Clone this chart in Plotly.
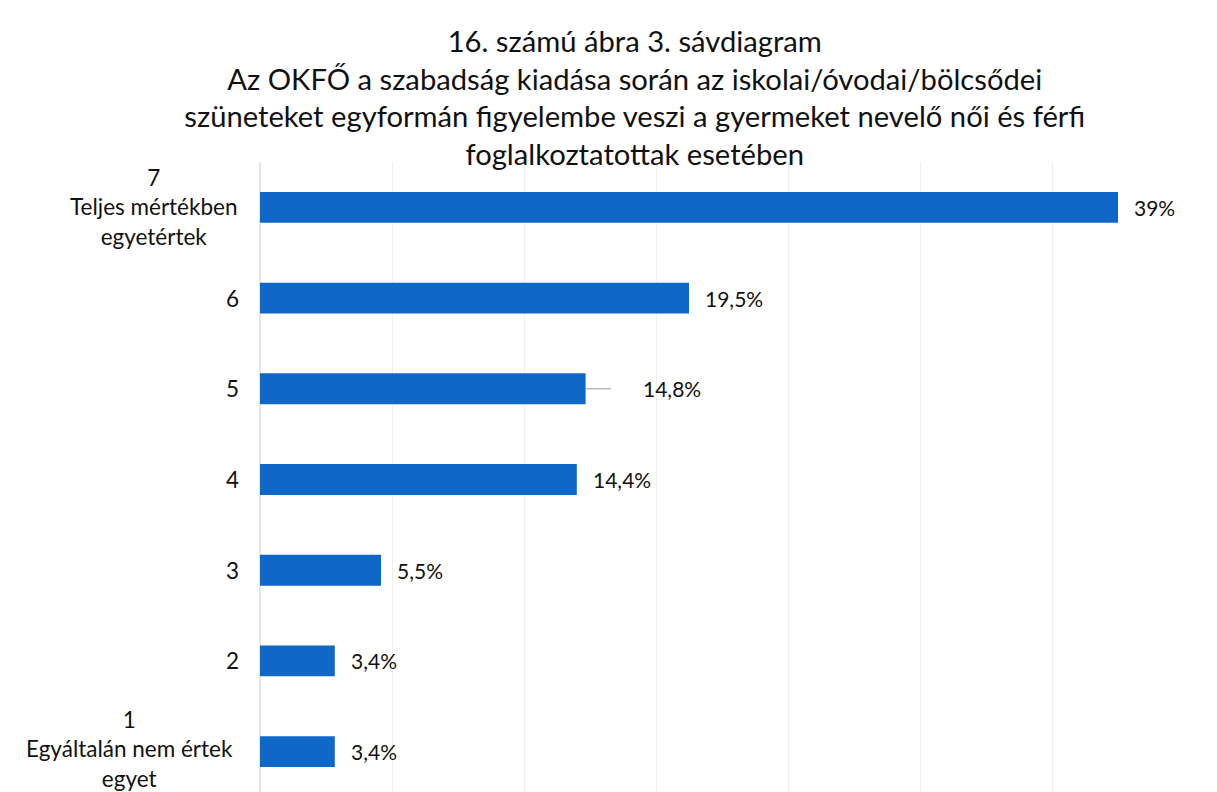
import plotly.graph_objects as go

categories = ["1", "2", "3", "4", "5", "6", "7"]
category_texts = ["1<br>Egyáltalán nem értek<br>egyet", "2", "3", "4", "5", "6",
                  "7<br>Teljes mértékben<br>egyetértek"]
values = [3.4, 3.4, 5.5, 14.4, 14.8, 19.5, 39.0]
value_labels = ["3,4%", "3,4%", "5,5%", "14,4%", "14,8%", "19,5%", "39%"]

title_text = ("16. számú ábra 3. sávdiagram<br>"
              "Az OKFŐ a szabadság kiadása során az iskolai/óvodai/bölcsődei<br>"
              "szüneteket egyformán figyelembe veszi a gyermeket nevelő női és férfi<br>"
              "foglalkoztatottak esetében")

FONT = "Lato"
BLUE = "#0F67C8"
LBL = 21
CAT = 22.5

fig = go.Figure(go.Bar(
    x=values, y=categories, orientation="h",
    marker=dict(color=BLUE, line=dict(width=0)),
    width=0.34, showlegend=False, hoverinfo="skip",
))

annotations = []
# category positions on the category axis are addressed by their index
for i, txt in enumerate(category_texts):
    multi = "<br>" in txt
    if multi:
        xshift = -131 if i == 0 else -107
        yshift = 3 if i == 0 else 0
    else:
        xshift, yshift = -19, 0
    annotations.append(dict(
        x=0, xref="paper", y=i, yref="y", text=txt, showarrow=False,
        xanchor="center" if multi else "right",
        xshift=xshift, yshift=yshift, align="center",
        font=dict(family=FONT, size=CAT, color="#111"),
    ))
for i, (v, lab) in enumerate(zip(values, value_labels)):
    if categories[i] == "5":
        annotations.append(dict(
            x=v, y=i, xref="x", yref="y", text=lab, showarrow=True,
            arrowhead=0, arrowwidth=1, arrowcolor="#999", ax=86, ay=0,
            standoff=0, startstandoff=30,
            font=dict(family=FONT, size=LBL, color="#111"),
        ))
    else:
        annotations.append(dict(
            x=v, y=i, xref="x", yref="y", text=lab, showarrow=False,
            xanchor="left", xshift=14,
            font=dict(family=FONT, size=LBL, color="#111"),
        ))

fig.update_layout(
    width=1217, height=792,
    margin=dict(l=252, r=41, t=154, b=3),
    paper_bgcolor="white", plot_bgcolor="white",
    title=dict(text=title_text, x=0.515, xanchor="center", y=0.945, yanchor="top",
               font=dict(family=FONT, size=29.2, color="#111")),
    xaxis=dict(range=[0, 42], dtick=6, showticklabels=False, showgrid=True,
               gridcolor="#EFEFEF", gridwidth=1, zeroline=True, zerolinecolor="#E6E6E6",
               fixedrange=True),
    yaxis=dict(type="category", categoryorder="array", categoryarray=categories,
               range=[-0.5, 6.5], showticklabels=False, showgrid=False, zeroline=False),
    annotations=annotations,
)

fig.write_html("out.html")
